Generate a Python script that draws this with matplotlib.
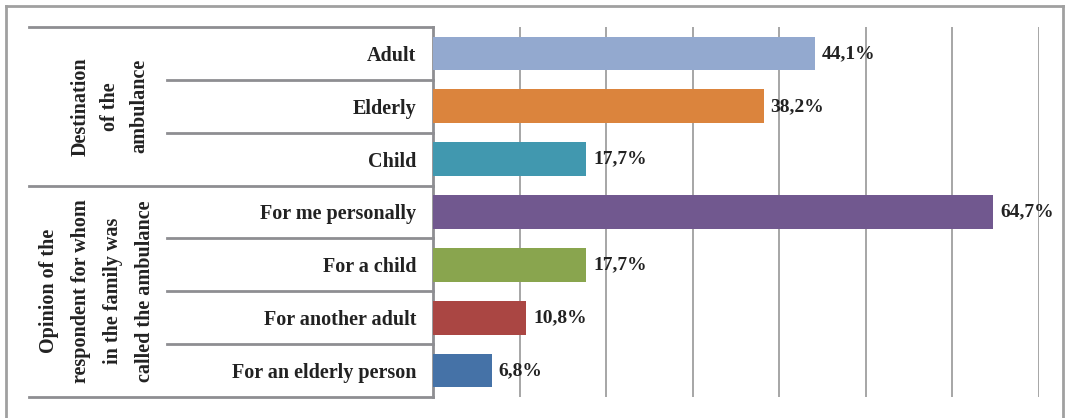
import matplotlib.pyplot as plt
from matplotlib.lines import Line2D

# categories, top to bottom
categories = ['Adult', 'Elderly', 'Child', 'For me personally', 'For a child',
              'For another adult', 'For an elderly person']
values = [44.1, 38.2, 17.7, 64.7, 17.7, 10.8, 6.8]
colors = ['#93a9cf', '#db843d', '#4198af', '#71588f', '#89a54e', '#aa4643', '#4572a7']
group_labels = ['Destination\nof the\nambulance',
                'Opinion of the\nrespondent for whom\nin the family was\ncalled the ambulance']
group_sizes = [3, 4]

plt.rcParams['font.family'] = ['Liberation Serif', 'DejaVu Serif']
plt.rcParams['font.weight'] = 'bold'
txt = '#222222'
line_c = '#8e8e92'
grid_c = '#a6a6a6'
fs = 14.5

W, H = 1065, 418
fig = plt.figure(figsize=(W / 100, H / 100), dpi=100)
x0, x1, y0, y1 = 433, 1039, 27, 397
ax = fig.add_axes([x0 / W, 1 - y1 / H, (x1 - x0) / W, (y1 - y0) / H])

pos = list(range(len(categories)))
ax.barh(pos, values, height=0.64, color=colors, zorder=3)
ax.set_xlim(0, 70)
ax.set_ylim(len(categories) - 0.5, -0.5)
ax.set_xticks(range(0, 71, 10))
ax.xaxis.grid(True, color=grid_c, lw=1.4)
ax.set_axisbelow(True)
ax.tick_params(axis='x', length=0, labelbottom=False)
ax.set_yticks(pos)
ax.set_yticklabels(categories, fontsize=fs, color=txt, fontweight='bold')
ax.tick_params(axis='y', length=0, pad=12)
for s in ['top', 'right', 'bottom']:
    ax.spines[s].set_visible(False)
ax.spines['left'].set_color(line_c)
ax.spines['left'].set_linewidth(2)

for i, v in enumerate(values):
    ax.annotate(f'{v:.1f}'.replace('.', ',') + '%', xy=(v, i), xytext=(5, 0),
                textcoords='offset points', va='center', ha='left',
                fontsize=14, color=txt, fontweight='bold')

# multi-level category table lines
tr = ax.get_yaxis_transform()
xf_full = (29 - x0) / (x1 - x0)
xf_in = (167 - x0) / (x1 - x0)
start = 0
bounds = [-0.5]
for g in group_sizes:
    for k in range(1, g):
        ax.plot([xf_in, 0], [start + k - 0.5] * 2, transform=tr, color=line_c,
                lw=2, clip_on=False)
    start += g
    bounds.append(start - 0.5)
for b in bounds:
    ax.plot([xf_full, 0], [b, b], transform=tr, color=line_c, lw=2, clip_on=False)

# group labels
gx = [(110 - x0) / (x1 - x0), (97 - x0) / (x1 - x0)]
gls = [1.6, 1.8]
start = 0
for lab, g, xx, ls in zip(group_labels, group_sizes, gx, gls):
    ax.text(xx, start + (g - 1) / 2, lab, transform=tr, rotation=90, ha='center',
            va='center', multialignment='center', fontsize=fs, color=txt,
            fontweight='bold', linespacing=ls)
    start += g

# outer frame (bottom edge is cut off)
bx0, bx1, by = 6 / W, 1063 / W, 1 - 6 / H
for xs, ys in [([bx0, bx0], [0, by]), ([bx0, bx1], [by, by]), ([bx1, bx1], [by, 0])]:
    fig.add_artist(Line2D(xs, ys, color='#a0a0a0', lw=2))

fig.savefig('out.png', dpi=100)
